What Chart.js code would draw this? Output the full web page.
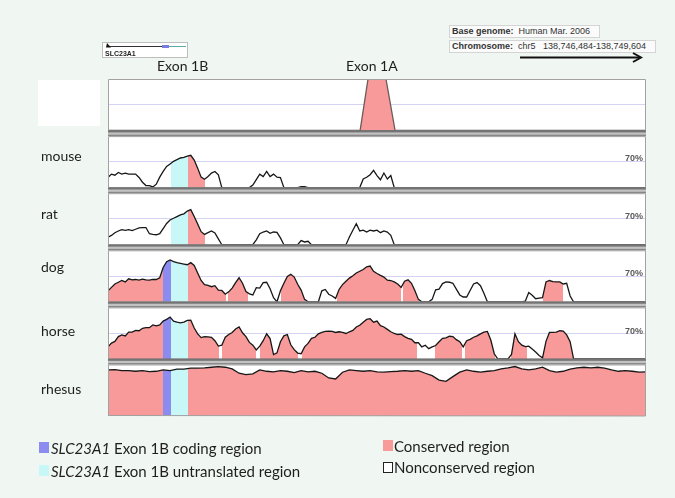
<!DOCTYPE html>
<html>
<head>
<meta charset="utf-8">
<title>SLC23A1 VISTA conservation plot</title>
<script src="https://cdn.jsdelivr.net/npm/chart.js@4/dist/chart.umd.min.js"></script>
<style>
html,body{margin:0;padding:0;background:#f0f6f2;}
#wrap{position:relative;width:675px;height:498px;overflow:hidden;background:#f0f6f2;font-family:Lato,"Open Sans",sans-serif;color:#1e1e1e;}
#chart{position:absolute;left:0;top:0;}
.t{position:absolute;white-space:nowrap;line-height:14px;font-size:14px;}
.lg{position:absolute;white-space:nowrap;line-height:15px;font-size:15px;}
.pct{position:absolute;white-space:nowrap;font-family:"Liberation Sans",Arial,sans-serif;font-weight:bold;font-size:9px;line-height:9px;color:#5a5a5a;right:32px;}
.hdr{position:absolute;white-space:nowrap;font-family:"Liberation Sans",Arial,sans-serif;font-size:9px;line-height:11px;color:#333;background:#fbfbfb;border:1px solid #d4d4d4;padding:0 2px;box-sizing:border-box;}
.sw{position:absolute;width:10px;height:11px;box-sizing:border-box;}
</style>
</head>
<body>
<div id="wrap">
  <canvas id="chart" width="675" height="498"></canvas>

  <div style="position:absolute;left:38px;top:80px;width:62px;height:46px;background:#fff;"></div>

  <svg style="position:absolute;left:102px;top:42px" width="87" height="17">
    <rect x="0.5" y="0.5" width="85" height="15" fill="#fff" stroke="#bdbdbd"/>
    <line x1="5" y1="4.5" x2="60" y2="4.5" stroke="#333" stroke-width="1"/>
    <polygon points="4,5.5 9,5.5 5,1" fill="#111"/>
    <rect x="60" y="3" width="7" height="3" fill="#7b7be0"/>
    <line x1="67" y1="4.5" x2="84" y2="4.5" stroke="#5fa8a8" stroke-width="1"/>
  </svg>
  <div style="position:absolute;left:105px;top:50px;font-family:'Liberation Sans',Arial,sans-serif;font-size:7px;font-weight:bold;line-height:7px;color:#222;white-space:nowrap;">SLC23A1</div>

  <div class="hdr" style="left:449px;top:25px;width:151px;height:13px;"><b>Base genome:</b>&nbsp; Human Mar. 2006</div>
  <div class="hdr" style="left:449px;top:40px;width:207px;height:13px;"><b>Chromosome:</b>&nbsp; chr5&nbsp;&nbsp; 138,746,484-138,749,604</div>
  <svg style="position:absolute;left:518px;top:51px" width="128" height="13">
    <line x1="2" y1="6.5" x2="122" y2="6.5" stroke="#111" stroke-width="2"/>
    <polyline points="115,2 123,6.5 115,11" fill="none" stroke="#111" stroke-width="2"/>
  </svg>

  <div class="t" style="left:157px;top:59px;">Exon 1B</div>
  <div class="t" style="left:346px;top:59px;">Exon 1A</div>

  <div class="t" style="left:41px;top:149px;">mouse</div>
  <div class="t" style="left:41px;top:207px;">rat</div>
  <div class="t" style="left:41px;top:260px;">dog</div>
  <div class="t" style="left:41px;top:324px;">horse</div>
  <div class="t" style="left:41px;top:382px;">rhesus</div>

  <div class="pct" style="top:154px;">70%</div>
  <div class="pct" style="top:212px;">70%</div>
  <div class="pct" style="top:269px;">70%</div>
  <div class="pct" style="top:327px;">70%</div>

  <div class="sw" style="left:39px;top:442px;background:#8b8bf0;"></div>
  <div class="lg" style="left:51px;top:441px;"><i>SLC23A1</i> Exon 1B coding region</div>
  <div class="sw" style="left:39px;top:465px;background:#c8f7f8;"></div>
  <div class="lg" style="left:51px;top:464px;"><i>SLC23A1</i> Exon 1B untranslated region</div>
  <div class="sw" style="left:383px;top:440px;background:#f99a9a;"></div>
  <div class="lg" style="left:394px;top:439px;">Conserved region</div>
  <div class="sw" style="left:383px;top:462px;background:#fff;border:1px solid #222;"></div>
  <div class="lg" style="left:394px;top:460px;">Nonconserved region</div>
</div>

<script>
// Relative position (bp) from chr5:138,746,484 ; window 138,746,484-138,749,604
const POSITIONS_20 = [
  0,20,40,60,80,100,120,140,160,180,
  200,220,240,260,280,300,320,340,360,380,
  400,420,440,460,480,500,520,540,560,580,
  600,620,640,660,680,700,720,740,760,780,
  800,820,840,860,880,900,920,940,960,980,
  1000,1020,1040,1060,1080,1100,1120,1140,1160,1180,
  1200,1220,1240,1260,1280,1300,1320,1340,1360,1380,
  1400,1420,1440,1460,1480,1500,1520,1540,1560,1580,
  1600,1620,1640,1660,1680,1700,1720,1740,1760,1780,
  1800,1820,1840,1860,1880,1900,1920,1940,1960,1980,
  2000,2020,2040,2060,2080,2100,2120,2140,2160,2180,
  2200,2220,2240,2260,2280,2300,2320,2340,2360,2380,
  2400,2420,2440,2460,2480,2500,2520,2540,2560,2580,
  2600,2620,2640,2660,2680,2700,2720,2740,2760,2780,
  2800,2820,2840,2860,2880,2900,2920,2940,2960,2980,
  3000,3020,3040,3060,3080,3100,3120
];
const POSITIONS_40 = [
  0,40,80,120,160,200,240,280,320,360,
  400,440,480,520,560,600,640,680,720,760,
  800,840,880,920,960,1000,1040,1080,1120,1160,
  1200,1240,1280,1320,1360,1400,1440,1480,1520,1560,
  1600,1640,1680,1720,1760,1800,1840,1880,1920,1960,
  2000,2040,2080,2120,2160,2200,2240,2280,2320,2360,
  2400,2440,2480,2520,2560,2600,2640,2680,2720,2760,
  2800,2840,2880,2920,2960,3000,3040,3080,3120
];

const SPECIES = ['mouse', 'rat', 'dog', 'horse', 'rhesus'];
const THRESHOLD = 70;      // % identity line ("70%")
const BASELINE = 40;       // bottom of each track (%)
const TRACK_MAX = 100;

// % identity with human (mouse, rat, dog, horse on the 20 bp grid)
const MOUSE = [
  51.8,55.7,54.5,57.6,55.7,56.9,55.7,55.7,55.7,51.8,
  46.3,42.4,42.4,40.8,44,52.2,58.8,64.7,67.4,70.6,
  72.5,74.5,75.3,76.8,77.6,72.1,62.7,52.2,49.8,52.9,
  56.9,58.8,54.9,40,40,40,40,40,40,40,
  40,40,43,49.4,55.7,52.9,58.8,52.9,55.7,52.2,
  51.8,40,40,40,40,40,41,41,40,40,
  40,40,40,40,40,40,40,40,40,40,40,40,40,40,
  50,52,55,60,54,49.2,57,50,54,40,
  40,40,40,40,40,40,40,40,40,40,
  40,40,40,40,40,40,40,40,40,40,
  40,40,40,40,40,40,40,40,40,40,
  40,40,40,40,40,40,40,40,40,40,
  40,40,40,40,40,40,40,40,40,40,
  40,40,40,40,40,40,40,40,40,40,
  40,40,40,40,40,40,40,40,40,40,
  40,40,40
];
const RAT = [
  48.8,50.8,54,56,57.6,56.8,57.6,56.4,58,59.6,
  60,60,52.8,52,51.6,52.8,58.8,64.8,68.8,70.8,
  72.8,74.8,76,79.2,80.8,72.8,64,55.2,52,54,
  56,53.6,46.8,40,40,40,40,40,40,40,
  40,40,40,45.6,52.8,54.8,56,53.2,54.8,54.4,
  48,40,40,40,40,40,44.8,43.2,44,40,
  40,40,40,40,40,40,40,40,40,40,
  49,56.8,64.4,56,57,54.8,57,56,57,54,
  56,54.8,51,40,
  40,40,40,40,40,40,40,40,40,40,
  40,40,40,40,40,40,40,40,40,40,
  40,40,40,40,40,40,40,40,40,40,
  40,40,40,40,40,40,40,40,40,40,
  40,40,40,40,40,40,40,40,40,40,
  40,40,40,40,40,40,40,40,40,40,
  40,40,40,40,40,40,40,40,40,40,
  40,40,40
];
const DOG = [
  52.8,56.8,60.8,62.8,64.8,63.2,66.8,65.6,66,65.2,
  66.4,65.6,65.2,66,66,68,80,86.8,88.8,86.8,
  85.6,84.8,84,83.2,85.6,82.4,73.6,64.8,60,59.2,
  57.6,58.8,53.6,53.2,48.8,51.6,56,62.4,68,61.6,
  52,49.2,48,56.4,56,62.4,62.8,55.2,44.8,40,
  52.8,61.6,69.6,72,68.8,60.4,53.6,42.8,40,40,
  40,40,52.8,54.4,48.8,46.8,44,54.4,60,64,
  67.6,70.4,73.6,75.6,77.6,80.8,81.6,75.6,73,70.8,
  68.8,65.2,64.8,63.2,60.8,56.8,64,65.6,61.6,52.8,
  42.8,40,40,40,42.8,54,54.8,61.2,63.2,62.8,
  61.6,54.8,48,45.6,45.6,53.2,60.8,62.4,58.8,50,
  40,40,40,40,40,40,40,40,40,40,
  40,40.8,50.8,47.6,43.6,44.4,44.8,63.2,64.8,63.6,
  63.2,63.2,60.8,61.6,46.8,40,40,40,40,40,
  40,40,40,40,40,40,40,40,40,40,
  40,40,40,40,40,40,40
];
const HORSE = [
  54,58.4,60.4,66,68,66.8,71.2,71.2,73.2,72.8,
  75.6,76.4,76.4,79.6,78.4,79.6,84,86,88.8,84,
  82.8,82,82.8,84.8,85.2,76,69.2,64.8,66,65.6,
  65.2,61.2,55,56,65.2,68.4,70.8,74.8,77.2,70.4,
  66,59.2,56,50.4,54.8,61.2,69.2,63.6,45,47,
  60,66.8,68.4,56.4,50.8,46.8,46,54,58,64,
  65.2,69.2,70.8,72,72.4,72,70.8,71.6,70.8,69.6,
  71.6,73.2,77.2,79.2,82.8,86,86.8,82.8,84,78.8,
  77.2,74.4,71.6,69.6,68.4,68.8,66,64,62.8,58.8,
  58.8,54,56,52,54,55.6,60,64,64.4,66.4,
  66,62.4,60,54,61.2,62.8,65.2,66.8,69.2,71.2,
  72,62,46,40,40,40,40,45.2,69.2,60,
  56,54.4,54.8,51.6,48,44,41.2,60.4,70.8,70.8,
  71.2,72.8,72.4,68,60,40,40,40,40,40,
  40,40,40,40,40,40,40,40,40,40,
  40,40,40,40,40,40,40
];
// rhesus on the 40 bp grid
const RHESUS = [
  93.7,94.1,92.9,92.9,92.1,92.9,91.7,92.1,93.7,92.9,
  94.5,94.5,95.7,95.7,96.1,96.8,97.6,96.8,94.9,89.8,
  88.2,89,93.7,92.1,91.4,92.9,92.1,90.6,92.9,91.4,
  92.1,89.8,84.3,83.1,91,93.7,92.9,92.1,92.9,91.4,
  91,91.7,92.1,92.9,92.1,92.9,89.8,87,81.9,80.4,
  85.9,91,93.7,92.1,91,92.1,92.9,94.9,96.1,97.6,
  94.9,93.7,94.9,96.8,92.9,91,92.1,94.5,96.1,96.8,
  96.1,96.8,95.7,93.7,92.1,92.9,92.1,91,91.4
];

// Exon 1A annotation track
const EXON1A_POS = [0, 1462, 1508, 1612, 1665, 3120];
const EXON1A_VAL = [40, 40, 100, 100, 40, 40];

// Coloured regions [startBp, endBp, kind]  C = conserved, B = exon 1B coding, U = exon 1B UTR
const EXON1A_REGIONS = [[1462, 1665, 'C']];
const MOUSE_REGIONS = [[365, 464, 'U'], [464, 563, 'C']];
const RAT_REGIONS = [[365, 462, 'U'], [462, 563, 'C']];
const DOG_REGIONS = [[0, 319, 'C'], [319, 365, 'B'], [365, 464, 'U'], [464, 683, 'C'], [694, 810, 'C'],
  [1003, 1143, 'C'], [1326, 1698, 'C'], [1709, 1804, 'C'], [2525, 2637, 'C']];
const HORSE_REGIONS = [[0, 319, 'C'], [319, 365, 'B'], [365, 464, 'U'], [464, 646, 'C'], [663, 857, 'C'],
  [882, 1100, 'C'], [1127, 1794, 'C'], [1897, 2055, 'C'], [2071, 2245, 'C'], [2337, 2428, 'C'], [2525, 2699, 'C']];
const RHESUS_REGIONS = [[0, 319, 'C'], [319, 365, 'B'], [365, 464, 'U'], [464, 3120, 'C']];

const FILL = { C: '#f99a9a', B: '#8b8bf0', U: '#c8f7f8' };
const CLEAR = 'rgba(255,255,255,0)';

function regionFill(regions) {
  return function (context) {
    const chart = context.chart;
    const area = chart.chartArea;
    if (!area) return CLEAR;
    const xs = chart.scales.x;
    const w = area.right - area.left;
    const off = bp => Math.min(1, Math.max(0, (xs.getPixelForValue(bp) - area.left) / w));
    const g = chart.ctx.createLinearGradient(area.left, 0, area.right, 0);
    g.addColorStop(0, CLEAR);
    regions.forEach(([a, b, k]) => {
      const p0 = off(a), p1 = off(b);
      g.addColorStop(p0, CLEAR);
      g.addColorStop(p0, FILL[k]);
      g.addColorStop(p1, FILL[k]);
      g.addColorStop(p1, CLEAR);
    });
    g.addColorStop(1, CLEAR);
    return g;
  };
}

const tracks = [
  { id: 'yExon', pos: EXON1A_POS, val: EXON1A_VAL, regions: EXON1A_REGIONS, band: true, line: '#6a5a5a' },
  { id: 'yMouse', pos: POSITIONS_20, val: MOUSE, regions: MOUSE_REGIONS, band: true },
  { id: 'yRat', pos: POSITIONS_20, val: RAT, regions: RAT_REGIONS, band: true },
  { id: 'yDog', pos: POSITIONS_20, val: DOG, regions: DOG_REGIONS, band: true },
  { id: 'yHorse', pos: POSITIONS_20, val: HORSE, regions: HORSE_REGIONS, band: true },
  { id: 'yRhesus', pos: POSITIONS_40, val: RHESUS, regions: RHESUS_REGIONS, band: false }
];

const scales = {
  x: { type: 'linear', min: 0, max: 3120, display: false }
};
tracks.forEach((t, i) => {
  const min = t.band ? 33.5 : BASELINE;
  scales[t.id] = {
    type: 'linear',
    position: 'left',
    stack: 'tracks',
    stackWeight: TRACK_MAX - min,
    weight: tracks.length - i,
    min: min,
    max: TRACK_MAX,
    ticks: { display: false },
    border: { display: false },
    grid: { drawTicks: false, color: '#d4d4f2', lineWidth: 1 },
    afterBuildTicks: s => { s.ticks = [{ value: THRESHOLD }]; }
  };
});

const trackFrames = {
  id: 'trackFrames',
  beforeDraw(chart) {
    const { ctx, chartArea: a } = chart;
    ctx.save();
    ctx.fillStyle = '#ffffff';
    tracks.forEach(t => {
      const s = chart.scales[t.id];
      const base = s.getPixelForValue(BASELINE);
      ctx.fillRect(a.left, s.top, a.right - a.left, base - s.top);
    });
    ctx.restore();
  },
  afterDatasetsDraw(chart) {
    const { ctx, chartArea: a } = chart;
    ctx.save();
    tracks.forEach(t => {
      const s = chart.scales[t.id];
      const base = s.getPixelForValue(BASELINE);
      const top = s.getPixelForValue(TRACK_MAX);
      if (t.band) {
        ctx.fillStyle = '#c2c2c2';
        ctx.fillRect(a.left, base, a.right - a.left, s.bottom - base);
        ctx.fillStyle = '#747474';
        ctx.fillRect(a.left, base - 0.5, a.right - a.left, 2.4);
        ctx.fillStyle = '#888888';
        ctx.fillRect(a.left, s.bottom - 1.4, a.right - a.left, 1.4);
      }
      ctx.strokeStyle = '#a2a2a2';
      ctx.lineWidth = 1;
      ctx.beginPath();
      ctx.moveTo(a.left + 0.5, base);
      ctx.lineTo(a.left + 0.5, top + 0.5);
      ctx.lineTo(a.right - 0.5, top + 0.5);
      ctx.lineTo(a.right - 0.5, base);
      if (!t.band) {
        ctx.lineTo(a.left + 0.5, base - 0.5);
      }
      ctx.stroke();
    });
    ctx.restore();
  }
};

new Chart(document.getElementById('chart'), {
  type: 'line',
  data: {
    datasets: tracks.map(t => ({
      label: t.id,
      xAxisID: 'x',
      yAxisID: t.id,
      data: t.pos.map((x, i) => ({ x: x, y: t.val[i] })),
      borderColor: t.line || '#171717',
      borderWidth: 1.3,
      pointRadius: 0,
      tension: 0,
      fill: { value: BASELINE },
      backgroundColor: regionFill(t.regions)
    }))
  },
  options: {
    responsive: false,
    animation: false,
    events: [],
    layout: { padding: { left: 108, right: 29, top: 79, bottom: 82 } },
    scales: scales,
    plugins: { legend: { display: false }, tooltip: { enabled: false } }
  },
  plugins: [trackFrames]
});
</script>
</body>
</html>
